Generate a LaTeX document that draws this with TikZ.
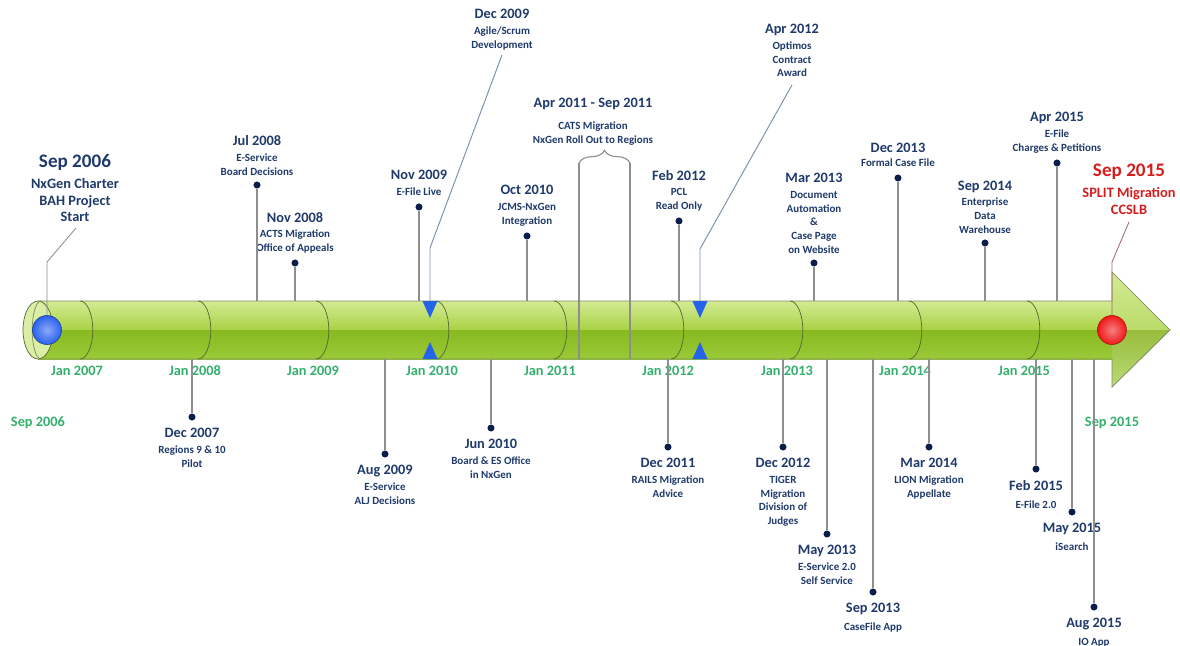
\documentclass[tikz,border=0pt]{standalone}
\usepackage{fontspec}
\setmainfont{Carlito}
\usepackage{tikz}
\usetikzlibrary{positioning, decorations.pathreplacing}

\definecolor{textnavy}{HTML}{1F3A6B}
\definecolor{dotnavy}{HTML}{0B1D4A}
\definecolor{yeargreen}{HTML}{33B06B}
\definecolor{endred}{HTML}{D41E1E}
\definecolor{linegray}{HTML}{8E8E8E}
\definecolor{slategray}{HTML}{7C93AD}
\definecolor{tubelight}{HTML}{D3EB95}
\definecolor{tubemid}{HTML}{A9D244}
\definecolor{tubedark}{HTML}{88B920}
\definecolor{tubelow}{HTML}{9ACB38}
\definecolor{seamcol}{HTML}{55652F}
\definecolor{markblue}{HTML}{2364E8}
\definecolor{ballblue}{HTML}{2A62F0}
\definecolor{ballred}{HTML}{F01818}

\newcommand{\evdate}{\fontsize{10.2}{12}\selectfont}
\newcommand{\bigdate}{\fontsize{13.6}{16}\selectfont}

\begin{document}
\begin{tikzpicture}[x=0.025cm, y=-0.025cm]
		\tikzstyle{evdot}=[circle, fill=dotnavy, inner sep=0pt, minimum size=5pt]
		\tikzstyle{evtext}=[align=center, inner sep=0pt, text=textnavy, font=\bfseries\fontsize{7.8}{9.7}\selectfont]
		\tikzstyle{bigtext}=[align=center, inner sep=0pt, font=\bfseries\fontsize{10.2}{12}\selectfont]
		\tikzstyle{yearlabel}=[inner sep=0pt, text=yeargreen, font=\bfseries\fontsize{10.2}{12}\selectfont]
		\tikzstyle{conn}=[draw=linegray, line width=0.8pt]
		\tikzstyle{slantline}=[draw=slategray, line width=0.7pt]
		\tikzstyle{seam}=[draw=seamcol, line width=0.5pt]
		\tikzstyle{rim}=[draw=seamcol!75!white, line width=0.5pt]
		\tikzstyle{marker}=[fill=markblue]
		\tikzstyle{orb}=[circle, inner sep=0pt, minimum size=0.725cm, line width=0.4pt]

		\useasboundingbox (0,0) rectangle (1180,646);

		\coordinate (tubetop) at (0,301);
		\coordinate (tubebot) at (0,359);

		% the tube and its arrow head
		\fill[top color=tubelight, bottom color=tubemid] (38,301) rectangle (1112,330);
		\fill[top color=tubedark, bottom color=tubelow] (38,330) rectangle (1112,359);
		\fill[top color=tubelight, bottom color=tubemid!80!white] (1112,272) -- (1170,330) -- (1112,330) -- cycle;
		\fill[top color=tubemid!90!black, bottom color=tubelow!70!white] (1112,330) -- (1170,330) -- (1112,387) -- cycle;
		\draw[rim] (38,301) -- (1112,301) -- (1112,272) -- (1170,330) -- (1112,387) -- (1112,359) -- (38,359);
		\filldraw[seam, fill=tubelight!85!white] (38,330) ellipse [x radius=0.375cm, y radius=0.725cm];
		\draw[rim] (41,301) arc (90:270:0.22cm and 0.725cm);
		\draw[seam] (80,301) arc (90:-90:0.32cm and 0.725cm)
			(198,301) arc (90:-90:0.32cm and 0.725cm)
			(316,301) arc (90:-90:0.32cm and 0.725cm)
			(436,301) arc (90:-90:0.32cm and 0.725cm)
			(554,301) arc (90:-90:0.32cm and 0.725cm)
			(671,301) arc (90:-90:0.32cm and 0.725cm)
			(790,301) arc (90:-90:0.32cm and 0.725cm)
			(909,301) arc (90:-90:0.32cm and 0.725cm)
			(1027,301) arc (90:-90:0.32cm and 0.725cm);

		\node[yearlabel] (jan07) at (77,371) {Jan 2007};
		\node[yearlabel] (jan08) at (195,371) {Jan 2008};
		\node[yearlabel] (jan09) at (313,371) {Jan 2009};
		\node[yearlabel] (jan10) at (432,371) {Jan 2010};
		\node[yearlabel] (jan11) at (550,371) {Jan 2011};
		\node[yearlabel] (jan12) at (668,371) {Jan 2012};
		\node[yearlabel] (jan13) at (787,371) {Jan 2013};
		\node[yearlabel] (jan14) at (905,371) {Jan 2014};
		\node[yearlabel] (jan15) at (1024,371) {Jan 2015};
		\node[yearlabel] (sep06yr) at (38,423) {Sep 2006};
		\node[yearlabel] (sep15yr) at (1112,423) {Sep 2015};

		% events above the tube
		\node[evdot] (jul08) at (257,185) {};
		\node[evtext, above=4pt of jul08] (jul08txt) {{\evdate Jul 2008}\\[1.6pt]E-Service\\Board Decisions};

		\node[evdot] (nov08) at (295,263) {};
		\node[evtext, above=4pt of nov08] (nov08txt) {{\evdate Nov 2008}\\[1.6pt]ACTS Migration\\Office of Appeals};

		\node[evdot] (nov09) at (419,207) {};
		\node[evtext, above=5pt of nov09] (nov09txt) {{\evdate Nov 2009}\\[1.6pt]E-File Live};

		\node[evdot] (oct10) at (527,236) {};
		\node[evtext, above=4pt of oct10] (oct10txt) {{\evdate Oct 2010}\\[1.6pt]JCMS-NxGen\\Integration};

		\node[evdot] (feb12) at (679,221) {};
		\node[evtext, above=4pt of feb12] (feb12txt) {{\evdate Feb 2012}\\[1.6pt]PCL\\Read Only};

		\node[evdot] (mar13) at (814,263) {};
		\node[evtext, above=4pt of mar13] (mar13txt) {{\evdate Mar 2013}\\[1.6pt]Document\\Automation\\\&\\Case Page\\on Website};

		\node[evdot] (dec13) at (898,178) {};
		\node[evtext, above=5pt of dec13] (dec13txt) {{\evdate Dec 2013}\\[0.6pt]Formal Case File};

		\node[evdot] (sep14) at (985,243) {};
		\node[evtext, above=4pt of sep14] (sep14txt) {{\evdate Sep 2014}\\[1.6pt]Enterprise\\Data\\Warehouse};

		\node[evdot] (apr15) at (1057,163) {};
		\node[evtext, above=4pt of apr15] (apr15txt) {{\evdate Apr 2015}\\[1.6pt]E-File\\Charges \& Petitions};

		\draw[conn] (jul08) -- (jul08 |- tubetop);
		\draw[conn] (nov08) -- (nov08 |- tubetop);
		\draw[conn] (nov09) -- (nov09 |- tubetop);
		\draw[conn] (oct10) -- (oct10 |- tubetop);
		\draw[conn] (feb12) -- (feb12 |- tubetop);
		\draw[conn] (mar13) -- (mar13 |- tubetop);
		\draw[conn] (dec13) -- (dec13 |- tubetop);
		\draw[conn] (sep14) -- (sep14 |- tubetop);
		\draw[conn] (apr15) -- (apr15 |- tubetop);

		% events below the tube
		\node[evdot] (dec07) at (192,417) {};
		\node[evtext, below=5pt of dec07] (dec07txt) {{\evdate Dec 2007}\\[1.6pt]Regions 9 \& 10\\Pilot};

		\node[evdot] (aug09) at (385,454) {};
		\node[evtext, below=5pt of aug09] (aug09txt) {{\evdate Aug 2009}\\[1.6pt]E-Service\\ALJ Decisions};

		\node[evdot] (jun10) at (491,428) {};
		\node[evtext, below=5pt of jun10] (jun10txt) {{\evdate Jun 2010}\\[1.6pt]Board \& ES Office\\in NxGen};

		\node[evdot] (dec11) at (668,447) {};
		\node[evtext, below=5pt of dec11] (dec11txt) {{\evdate Dec 2011}\\[1.6pt]RAILS Migration\\Advice};

		\node[evdot] (dec12) at (783,447) {};
		\node[evtext, below=5pt of dec12] (dec12txt) {{\evdate Dec 2012}\\[1.6pt]TIGER\\Migration\\Division of\\Judges};

		\node[evdot] (may13) at (827,534) {};
		\node[evtext, below=5pt of may13] (may13txt) {{\evdate May 2013}\\[1.6pt]E-Service 2.0\\Self Service};

		\node[evdot] (sep13) at (873,592) {};
		\node[evtext, below=5pt of sep13] (sep13txt) {{\evdate Sep 2013}\\[3pt]CaseFile App};

		\node[evdot] (mar14) at (929,447) {};
		\node[evtext, below=5pt of mar14] (mar14txt) {{\evdate Mar 2014}\\[1.6pt]LION Migration\\Appellate};

		\node[evdot] (feb15) at (1036,469) {};
		\node[evtext, below=5pt of feb15] (feb15txt) {{\evdate Feb 2015}\\[3.5pt]E-File 2.0};

		\node[evdot] (may15) at (1072,512) {};
		\node[evtext, below=5pt of may15] (may15txt) {{\evdate May 2015}\\[3pt]iSearch};

		\node[evdot] (aug15) at (1094,607) {};
		\node[evtext, below=5pt of aug15] (aug15txt) {{\evdate Aug 2015}\\[3pt]IO App};

		\draw[conn] (dec07 |- tubebot) -- (dec07);
		\draw[conn] (aug09 |- tubebot) -- (aug09);
		\draw[conn] (jun10 |- tubebot) -- (jun10);
		\draw[conn] (dec11 |- tubebot) -- (dec11);
		\draw[conn] (dec12 |- tubebot) -- (dec12);
		\draw[conn] (may13 |- tubebot) -- (may13);
		\draw[conn] (sep13 |- tubebot) -- (sep13);
		\draw[conn] (mar14 |- tubebot) -- (mar14);
		\draw[conn] (feb15 |- tubebot) -- (feb15);
		\draw[conn] (may15 |- tubebot) -- (may15);
		\draw[conn] (aug15 |- tubebot) -- (aug15);

		% CATS roll out span
		\coordinate (catsl) at (579,163);
		\coordinate (catsr) at (630,163);
		\node[evtext, anchor=north] (cats) at (593,98) {{\evdate Apr 2011 - Sep 2011}\\[6pt]CATS Migration\\NxGen Roll Out to Regions};
		\draw[conn, decorate, decoration={brace, amplitude=9pt}] (catsl) -- (catsr);
		\draw[conn] (catsl) -- (catsl |- tubebot);
		\draw[conn] (catsr) -- (catsr |- tubebot);

		% events with slanted leaders
		\node[evtext, anchor=north] (dec09) at (502,9) {{\evdate Dec 2009}\\[1.6pt]Agile/Scrum\\Development};
		\coordinate (dec09foot) at (502,55);
		\coordinate (dec09bend) at (430,248);
		\coordinate (dec09mark) at (430,301);
		\coordinate (dec09base) at (430,359);
		\draw[slantline] (dec09foot) -- (dec09bend) -- (dec09mark);
		\fill[marker] (dec09mark) ++(-7.5,0) -- ++(15,0) -- ++(-7.5,17) -- cycle;
		\fill[marker] (dec09base) ++(-7.5,0) -- ++(15,0) -- ++(-7.5,-17) -- cycle;

		\node[evtext, anchor=north] (apr12) at (792,24) {{\evdate Apr 2012}\\[1.6pt]Optimos\\Contract\\Award};
		\coordinate (apr12foot) at (792,85);
		\coordinate (apr12bend) at (700,249);
		\coordinate (apr12mark) at (700,301);
		\coordinate (apr12base) at (700,359);
		\draw[slantline] (apr12foot) -- (apr12bend) -- (apr12mark);
		\fill[marker] (apr12mark) ++(-7.5,0) -- ++(15,0) -- ++(-7.5,17) -- cycle;
		\fill[marker] (apr12base) ++(-7.5,0) -- ++(15,0) -- ++(-7.5,-17) -- cycle;

		\node[bigtext, text=textnavy, anchor=north] (sep06) at (75,154) {{\bigdate Sep 2006}\\[2.8pt]NxGen Charter\\BAH Project\\Start};
		\coordinate (sep06foot) at (76,228);
		\coordinate (sep06bend) at (47,262);
		\node[orb, inner color=ballblue!55!white, outer color=ballblue, draw=ballblue!60!black] (sep06ball) at (47,330) {};
		\draw[conn, line width=0.6pt] (sep06foot) -- (sep06bend) -- (sep06ball);

		\node[bigtext, text=endred, anchor=north] (sep15) at (1129,164) {{\bigdate Sep 2015}\\[2.8pt]SPLIT Migration\\CCSLB};
		\coordinate (sep15foot) at (1129,222);
		\coordinate (sep15bend) at (1112,262);
		\node[orb, inner color=ballred!55!white, outer color=ballred, draw=ballred!70!black] (sep15ball) at (1112,330) {};
		\draw[draw=endred!35!linegray, line width=0.6pt] (sep15foot) -- (sep15bend) -- (sep15ball);

	\end{tikzpicture}
\end{document}
